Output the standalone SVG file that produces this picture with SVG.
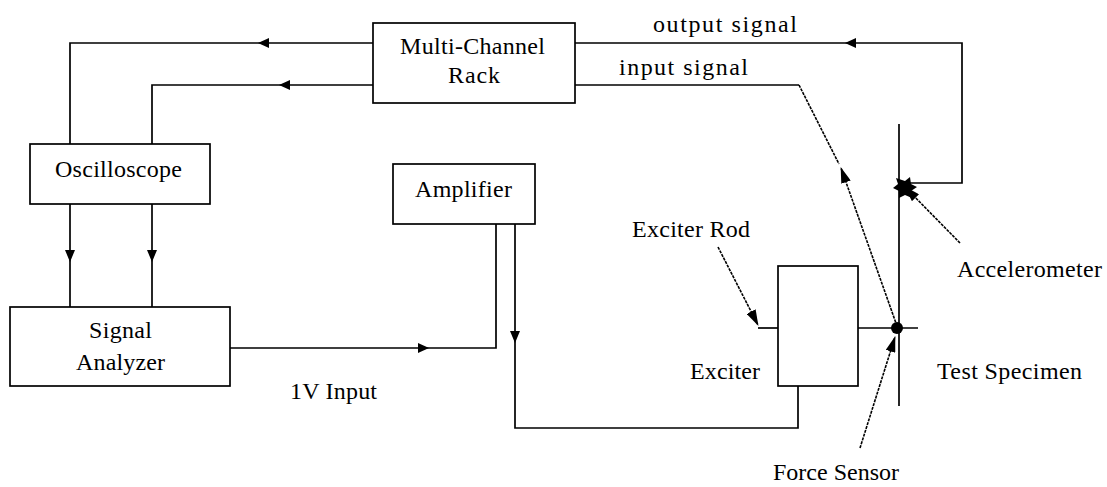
<svg xmlns="http://www.w3.org/2000/svg" width="1107" height="487" viewBox="0 0 1107 487">
<style>
.box{fill:#fff;stroke:#000;stroke-width:1.7}
.ln{fill:none;stroke:#000;stroke-width:1.7}
.dl{fill:none;stroke:#000;stroke-width:1.6;stroke-dasharray:3 1}
.ah{fill:#000;stroke:none}
text{font-family:"Liberation Serif","Times New Roman",serif;font-size:24px;fill:#000}
</style>
<defs>
<marker id="tri" viewBox="0 0 16 10" refX="15" refY="5" markerWidth="16" markerHeight="10" markerUnits="userSpaceOnUse" orient="auto">
<path d="M0,0 L16,5 L0,10 z" fill="#000"/>
</marker>
</defs>
<rect width="1107" height="487" fill="#fff"/>
<g id="connectors">
<path class="ln" d="M373,43 H70 V144"/>
<path class="ah" d="M258,43 l11,-5 v10 z"/>
<path class="ln" d="M373,85 H152 V144"/>
<path class="ah" d="M279,85 l11,-5 v10 z"/>
<path class="ln" d="M70,204 V307"/>
<path class="ah" d="M70,262 l-5,-12 h10 z"/>
<path class="ln" d="M152,204 V307"/>
<path class="ah" d="M152,262 l-5,-12 h10 z"/>
<path class="ln" d="M230,348 H496 V224"/>
<path class="ah" d="M429,348 l-11,-5 v10 z"/>
<path class="ln" d="M515,224 V428 H798 V386"/>
<path class="ah" d="M515,343 l-5,-12 h10 z"/>
<path class="ln" d="M575,43 H962 V183 H903"/>
<path class="ah" d="M845,43 l11,-5 v10 z"/>
<path class="ln" d="M575,85 H799"/>
<path class="dl" d="M799,85 L839,164"/>
<path class="dl" d="M897,326 L841,168" marker-end="url(#tri)"/>
<path class="dl" d="M960,243 L905,187" marker-end="url(#tri)"/>
<path class="ah" d="M896,178 l9,3 l5,-4 l1,7 l6,3 l-6,4 l1,7 l-7,-3 l-6,3 l0,-7 l-6,-3 l5,-4 z"/>
<path class="dl" d="M718,247 L758,325" marker-end="url(#tri)"/>
<path class="dl" d="M860,448 L895,337" marker-end="url(#tri)"/>
</g>
<g id="rack">
<rect class="box" x="373" y="23" width="202" height="80"/>
<text x="400" y="54" textLength="145" lengthAdjust="spacing">Multi-Channel</text>
<text x="448" y="83" textLength="52" lengthAdjust="spacing">Rack</text>
</g>
<g id="labels-signals">
<text x="653" y="32" textLength="144" lengthAdjust="spacing">output signal</text>
<text x="619" y="75" textLength="129" lengthAdjust="spacing">input signal</text>
</g>
<g id="oscilloscope">
<rect class="box" x="30" y="144" width="180" height="60"/>
<text x="55" y="177" textLength="127" lengthAdjust="spacing">Oscilloscope</text>
</g>
<g id="analyzer">
<rect class="box" x="10" y="307" width="220" height="79"/>
<text x="89" y="338" textLength="63" lengthAdjust="spacing">Signal</text>
<text x="76" y="370" textLength="89" lengthAdjust="spacing">Analyzer</text>
</g>
<g id="input-label">
<text x="290" y="399" textLength="87" lengthAdjust="spacing">1V Input</text>
</g>
<g id="amplifier">
<rect class="box" x="393" y="164" width="142" height="60"/>
<text x="415" y="197" textLength="97" lengthAdjust="spacing">Amplifier</text>
</g>
<g id="exciter">
<rect class="box" x="778" y="266" width="80" height="120"/>
<path class="ln" d="M758,328 H778"/>
<path class="ln" d="M858,328 H918"/>
<text x="632" y="237" textLength="118" lengthAdjust="spacing">Exciter Rod</text>
<text x="690" y="379" textLength="70" lengthAdjust="spacing">Exciter</text>
</g>
<g id="specimen">
<path class="ln" d="M899,124 V406"/>
<circle cx="897" cy="328" r="6" fill="#000"/>
<text x="957" y="277" textLength="145" lengthAdjust="spacing">Accelerometer</text>
<text x="937" y="379" textLength="145" lengthAdjust="spacing">Test Specimen</text>
<text x="773" y="480" textLength="126" lengthAdjust="spacing">Force Sensor</text>
</g>
</svg>
